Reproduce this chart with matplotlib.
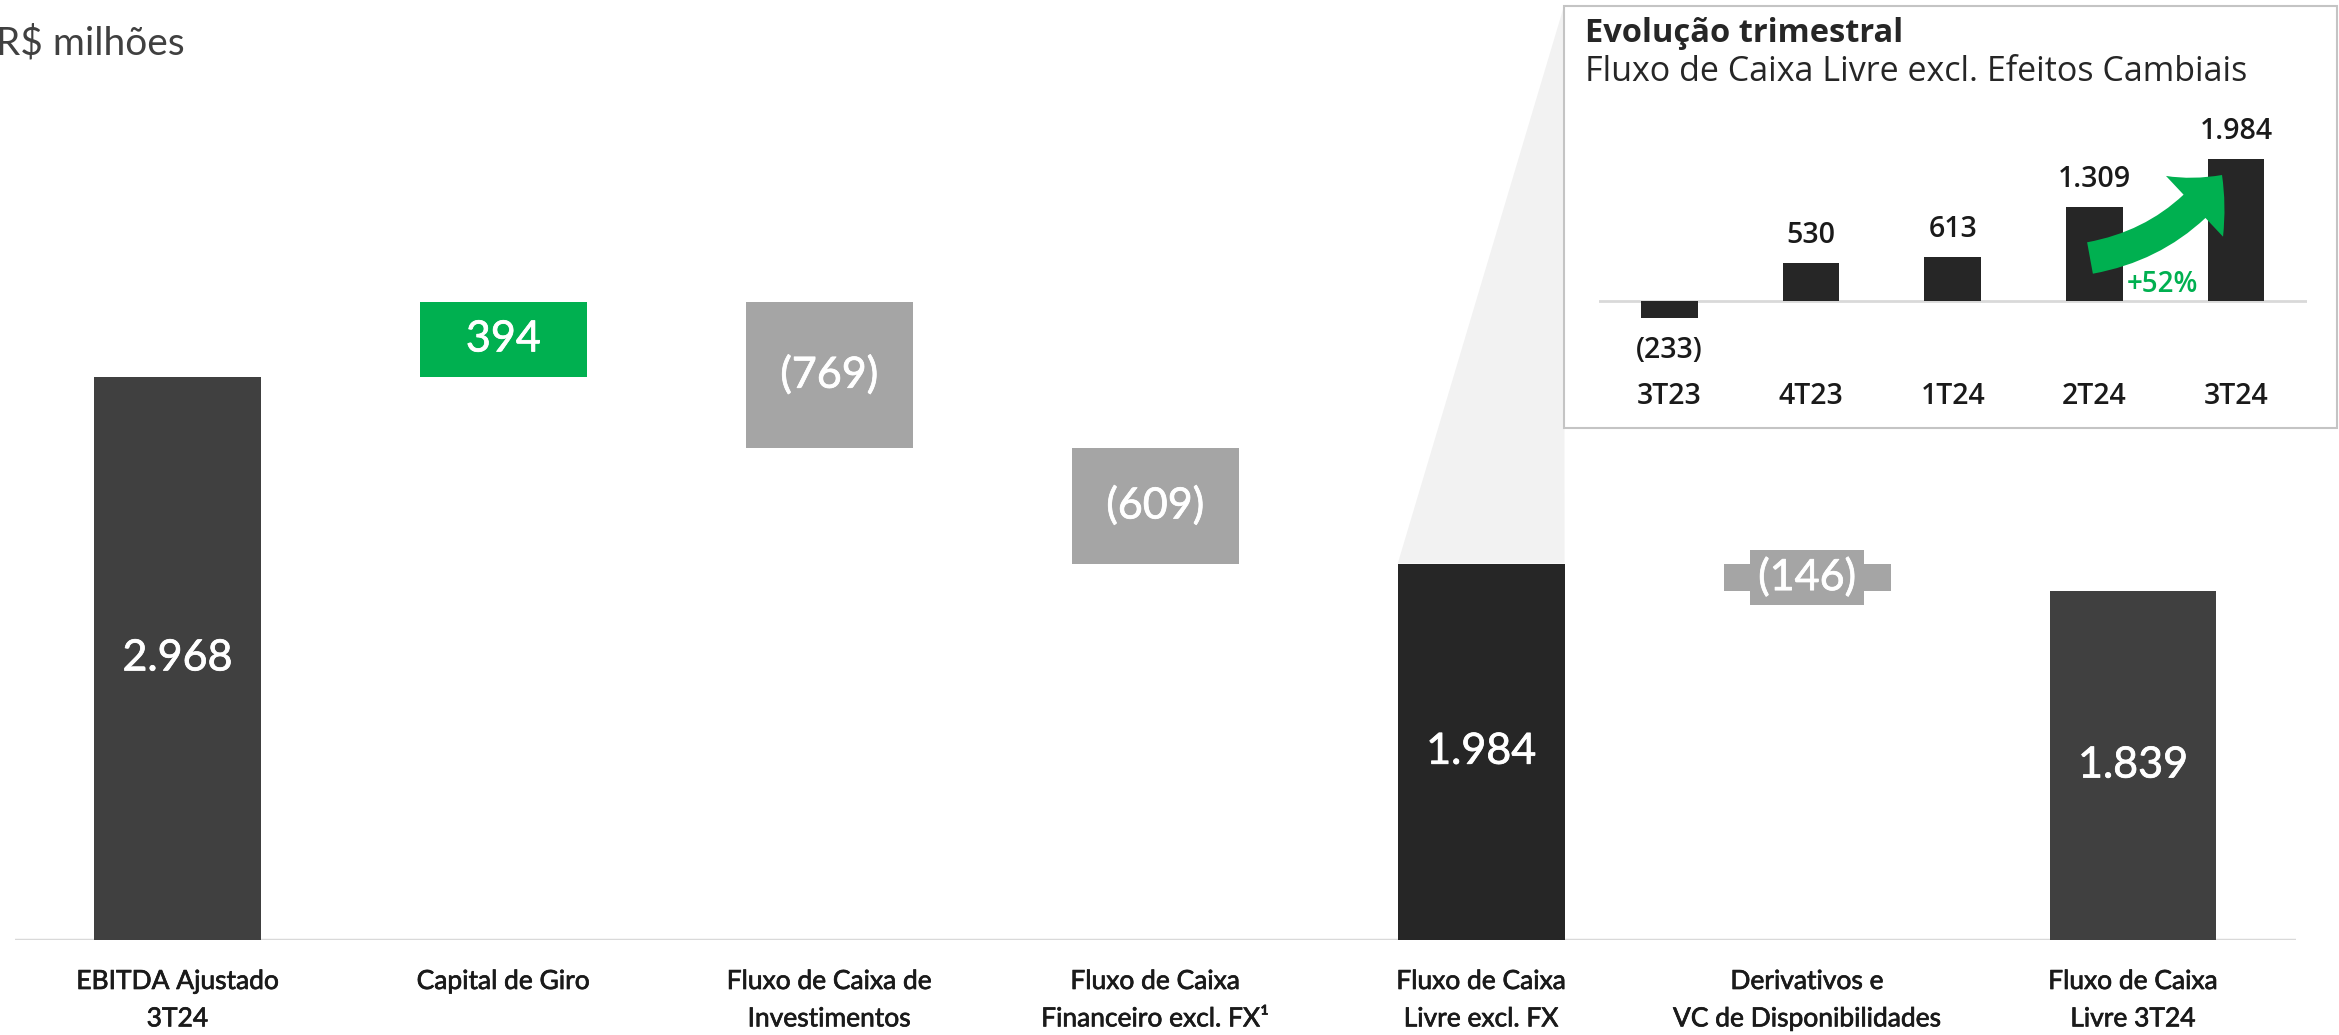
import matplotlib
matplotlib.use("Agg")
import matplotlib.pyplot as plt
import matplotlib.transforms as mtransforms
import matplotlib.patheffects as pe
from matplotlib.patches import Rectangle, Polygon, FancyArrowPatch, ArrowStyle

# waterfall data (R$ milhoes)
categories = ["EBITDA Ajustado\n3T24", "Capital de Giro", "Fluxo de Caixa de\nInvestimentos",
              "Fluxo de Caixa\nFinanceiro excl. FX¹", "Fluxo de Caixa\nLivre excl. FX",
              "Derivativos e\nVC de Disponibilidades", "Fluxo de Caixa\nLivre 3T24"]
values = [2968, 394, -769, -609, 1984, -146, 1839]
is_total = [True, False, False, False, True, False, True]

# inset: quarterly evolution
quarters = ["3T23", "4T23", "1T24", "2T24", "3T24"]
fcl_quarter = [-233, 530, 613, 1309, 1984]
growth_label = "+52%"

DARK = "#404040"
DARKER = "#262626"
GREEN = "#00B050"
GRAY = "#A5A5A5"
LINE = "#D9D9D9"

W, H = 2339, 1035
def fx(px):
    return px / W
def fy(py):
    return 1 - py / H

def fmt(v):
    s = "{:,}".format(abs(v)).replace(",", ".")
    return "(%s)" % s if v < 0 else s

# thicken Lato regular a little, the original uses a medium weight
def heavier(color, lw):
    return [pe.withStroke(linewidth=lw, foreground=color)]

fig = plt.figure(figsize=(W / 100, H / 100), dpi=100)

ax = fig.add_axes([fx(14.5), fy(940), fx(2296 - 14.5), 759 / H])
ax.set_xlim(-0.5, 6.5)
ax.set_ylim(0, 4000)
ax.axis("off")
ax.axhline(0, color=LINE, lw=2.5, zorder=1)

bar_w = 0.512
running = 0
for i, v in enumerate(values):
    if is_total[i]:
        bottom, height = 0, v
        running = v
        color = DARKER if i == 4 else DARK
    else:
        bottom = running if v > 0 else running + v
        height = abs(v)
        running += v
        color = GREEN if v > 0 else GRAY
    ax.bar(i, height, bottom=bottom, width=bar_w, color=color, zorder=2)
    box = dict(boxstyle="square,pad=0.18", fc=GRAY, ec="none") if i == 5 else None
    ax.text(i, bottom + height / 2, fmt(v), ha="center", va="center", color="white",
            fontsize=31, family="Lato", zorder=3, bbox=box,
            path_effects=heavier("white", 0.55))

# category labels
tr = mtransforms.blended_transform_factory(ax.transData, fig.transFigure)
for i, c in enumerate(categories):
    ax.text(i, fy(969), c, transform=tr, ha="center", va="top", fontsize=19,
            family="Lato", color="#1a1a1a", linespacing=1.62,
            path_effects=heavier("#1a1a1a", 0.5))

fig.text(fx(-4), fy(43), "R$ milhões", ha="left", va="center", fontsize=28,
         family="Lato", color=DARK)

# inset box and wedge connecting it to the FCL excl. FX bar
box_l, box_t, box_r, box_b = 1564, 6, 2337, 428
fig.add_artist(Rectangle((fx(box_l), fy(box_b)), fx(box_r - box_l), (box_b - box_t) / H,
                         transform=fig.transFigure, fc="white", ec="#C4C4C4", lw=1.5, zorder=2))
inv = fig.transFigure.inverted()
p1 = inv.transform(ax.transData.transform((4 - bar_w / 2, values[4])))
p2 = inv.transform(ax.transData.transform((4 + bar_w / 2, values[4])))
p3 = (fx(box_l), fy(box_t))
fig.add_artist(Polygon([p1, p2, p3], closed=True, transform=fig.transFigure,
                       fc="#F2F2F2", ec="none", zorder=1))

fig.text(fx(1585), fy(33), "Evolução trimestral", ha="left", va="center", fontsize=23.5,
         family="Open Sans", weight="bold", color="#262626", zorder=4)
fig.text(fx(1585), fy(72), "Fluxo de Caixa Livre excl. Efeitos Cambiais", ha="left",
         va="center", fontsize=24.5, family="Open Sans", color="#262626", zorder=4)

px_per = 0.0715
ax_in = fig.add_axes([fx(1598.7), fy(301 + 400 * px_per), fx(708), 3200 * px_per / H])
ax_in.set_zorder(3)
ax_in.patch.set_visible(False)
ax_in.set_xlim(-0.5, 4.5)
ax_in.set_ylim(-400, 2800)
ax_in.axis("off")
ax_in.axhline(0, color=LINE, lw=2, zorder=1)
ax_in.bar(range(len(quarters)), fcl_quarter, width=0.4, color=DARKER, zorder=2)
for i, v in enumerate(fcl_quarter):
    off = 20 if v >= 0 else -24
    ax_in.annotate(fmt(v), (i, v), xytext=(0, off), textcoords="offset points",
                   ha="center", va="center", fontsize=20.5, family="Open Sans",
                   weight="semibold", color="#1a1a1a")
tr_in = mtransforms.blended_transform_factory(ax_in.transData, fig.transFigure)
for i, q in enumerate(quarters):
    ax_in.text(i, fy(397), q, transform=tr_in, ha="center", va="center", fontsize=20.5,
               family="Open Sans", weight="semibold", color="#1a1a1a")

arrow = FancyArrowPatch(posA=(fx(2090), fy(258)), posB=(fx(2222), fy(175)),
                        transform=fig.transFigure,
                        arrowstyle=ArrowStyle.Simple(head_length=0.3, head_width=0.6, tail_width=0.23),
                        mutation_scale=100, connectionstyle="arc3,rad=0.2",
                        shrinkA=0, shrinkB=0, color=GREEN, lw=0, zorder=5)
fig.add_artist(arrow)
fig.text(fx(2162), fy(285), growth_label, ha="center", va="center", fontsize=20,
         family="Open Sans", weight="semibold", color=GREEN, zorder=6)

fig.savefig("out.png", dpi=100)
